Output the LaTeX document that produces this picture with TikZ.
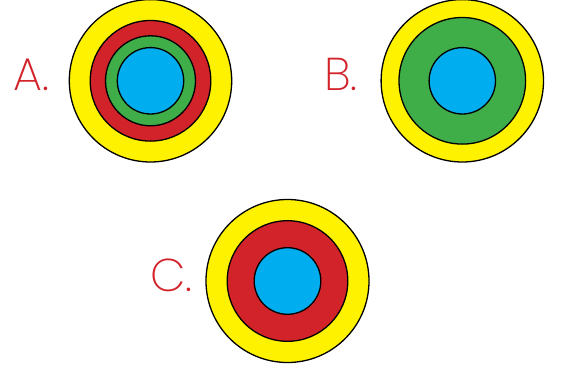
\documentclass[tikz,border=0pt]{standalone}
\usepackage{fontspec}
\setmainfont{Poppins ExtraLight}
\definecolor{ylw}{HTML}{FFF200}
\definecolor{rd}{HTML}{D2232A}
\definecolor{grn}{HTML}{3FAE49}
\definecolor{blu}{HTML}{00AEEF}
\begin{document}
\begin{tikzpicture}[x=1pt,y=-1pt,
  ring/.style={draw=black,line width=1.3pt},
  lbl/.style={text=rd,font=\fontsize{46}{46}\selectfont,inner sep=0pt,anchor=base west}]
\useasboundingbox (0,0) rectangle (562,369);
% A
\coordinate (ca) at (150.5,80.8);
\fill[ylw,ring] (ca) circle[radius=81.2];
\fill[rd,ring] (ca) circle[radius=60.3];
\fill[grn,ring] (ca) circle[radius=45];
\fill[blu,ring] (ca) circle[radius=33.2];
\node[lbl] (la) at (13,90) {A.};
% B
\coordinate (cb) at (462.3,80.8);
\fill[ylw,ring] (cb) circle[radius=81.2];
\fill[grn,ring] (cb) circle[radius=63.3];
\fill[blu,ring] (cb) circle[radius=33.2];
\node[lbl] (lb) at (324,90) {B.};
% C
\coordinate (cc) at (287.5,281);
\fill[ylw,ring] (cc) circle[radius=81.5];
\fill[rd,ring] (cc) circle[radius=60.3];
\fill[blu,ring] (cc) circle[radius=33.3];
\node[lbl] (lc) at (150,291) {C.};
\end{tikzpicture}
\end{document}
